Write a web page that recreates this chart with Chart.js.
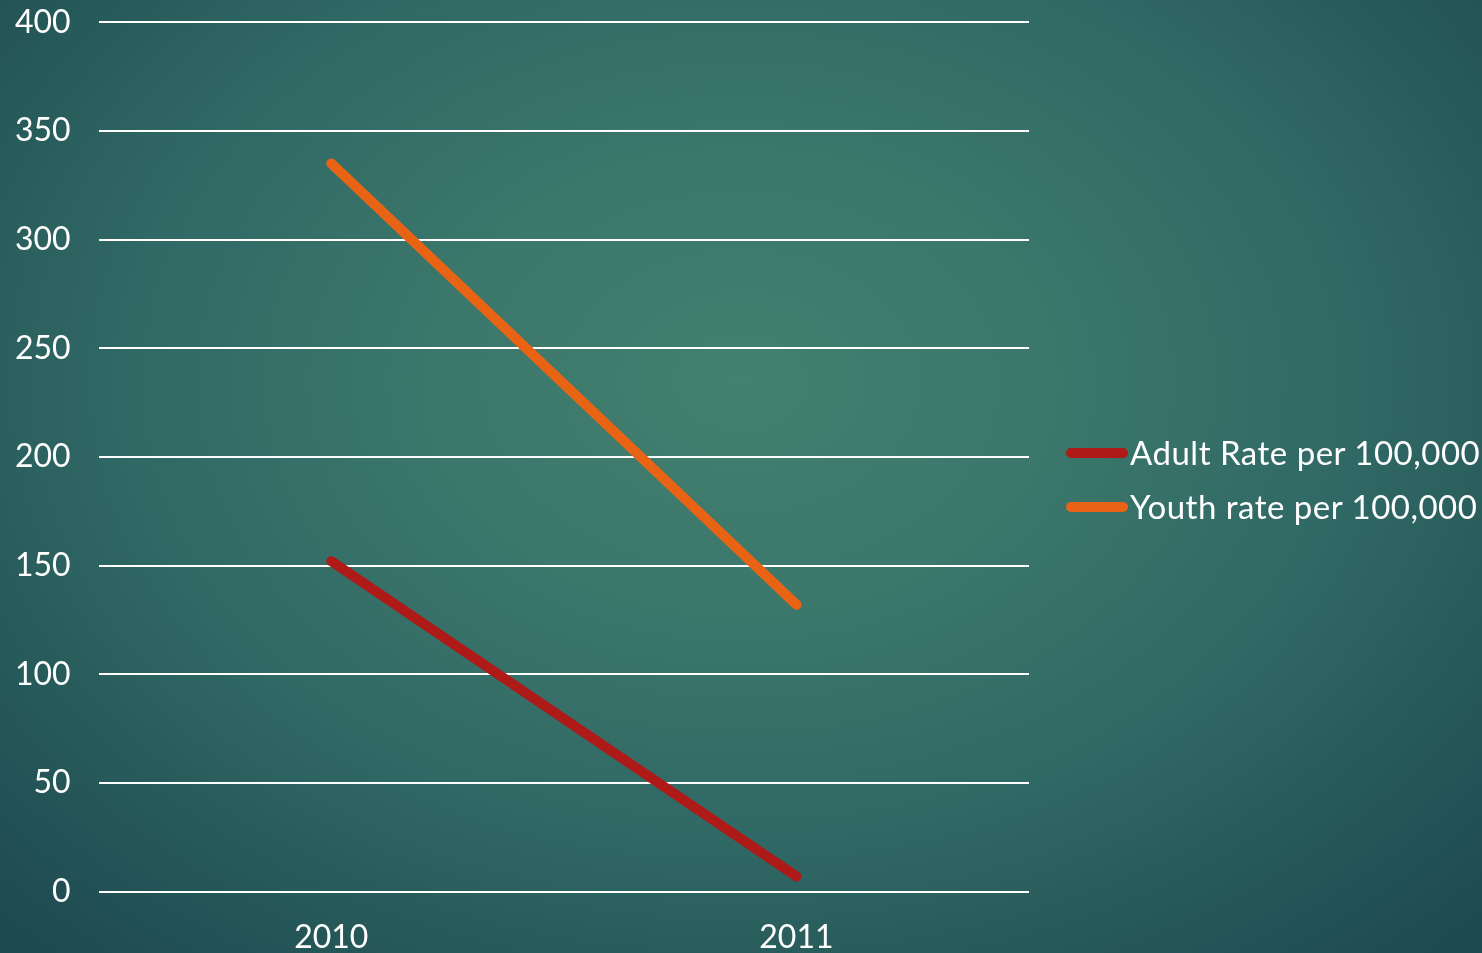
<html>
<head>
<title>Adult vs Youth rate</title>
<style>
    html, body { margin: 0; padding: 0; width: 1482px; height: 953px; overflow: hidden; }
    body { background: radial-gradient(ellipse 70% 80% at 50% 40%, #42806f 0%, #3b776b 30%, #306865 60%, #265959 80%, #1e4a52 100%); font-family: Lato, 'Noto Sans', sans-serif; }
    #wrap { position: absolute; left: 0; top: -25px; width: 1482px; height: 980px; }
    #legend { position: absolute; left: 1066px; top: 432px; color: #ffffff; font-size: 33px; letter-spacing: 0.5px; }
    #legend .item { height: 54px; display: flex; align-items: flex-start; white-space: nowrap; }
    #legend .swatch { width: 62px; height: 10px; border-radius: 5px; margin-top: 16px; margin-right: 2px; }
</style>
</head>
<body>
<div id="wrap"><canvas id="line-chart" width="1482" height="980"></canvas></div>
<div id="legend"></div>
<script src="https://cdn.jsdelivr.net/npm/chart.js@4/dist/chart.umd.min.js"></script>
<script>
    var years = ["2010", "2011"];
    var adultRate = [152, 7];
    var youthRate = [335, 132];
    var seriesNames = ["Adult Rate per 100,000", "Youth rate per 100,000"];
    var seriesColors = ["#ae1a17", "#e86414"];

    var font = "Lato, 'Noto Sans', sans-serif";

    var ctx = document.getElementById('line-chart').getContext('2d');
    var chart = new Chart(ctx, {
        type: 'line',
        data: {
            labels: years,
            datasets: [
                {label: seriesNames[0], data: adultRate, borderColor: seriesColors[0], backgroundColor: seriesColors[0]},
                {label: seriesNames[1], data: youthRate, borderColor: seriesColors[1], backgroundColor: seriesColors[1]}
            ]
        },
        options: {
            responsive: false,
            animation: false,
            devicePixelRatio: 1,
            layout: {padding: {top: 0, left: -13, right: 453, bottom: -29}},
            elements: {
                line: {borderWidth: 10, borderCapStyle: 'round', tension: 0},
                point: {radius: 0}
            },
            plugins: {
                tooltip: {enabled: false},
                legend: {display: false}
            },
            scales: {
                x: {
                    offset: true,
                    grid: {display: false, drawTicks: false},
                    border: {display: false},
                    ticks: {color: '#ffffff', font: {family: font, size: 32}, padding: 27}
                },
                y: {
                    min: 0,
                    max: 400,
                    ticks: {stepSize: 50, color: '#ffffff', font: {family: font, size: 32}, padding: 28},
                    grid: {color: '#ffffff', lineWidth: 2, drawTicks: false},
                    border: {display: false}
                }
            }
        }
    });

    // legend drawn as html so the long labels are not clipped
    var legend = document.getElementById('legend');
    chart.data.datasets.forEach(function (ds) {
        var item = document.createElement('div');
        item.className = 'item';
        var sw = document.createElement('span');
        sw.className = 'swatch';
        sw.style.background = ds.borderColor;
        var txt = document.createElement('span');
        txt.textContent = ds.label;
        item.appendChild(sw);
        item.appendChild(txt);
        legend.appendChild(item);
    });
</script>
</body>
</html>
